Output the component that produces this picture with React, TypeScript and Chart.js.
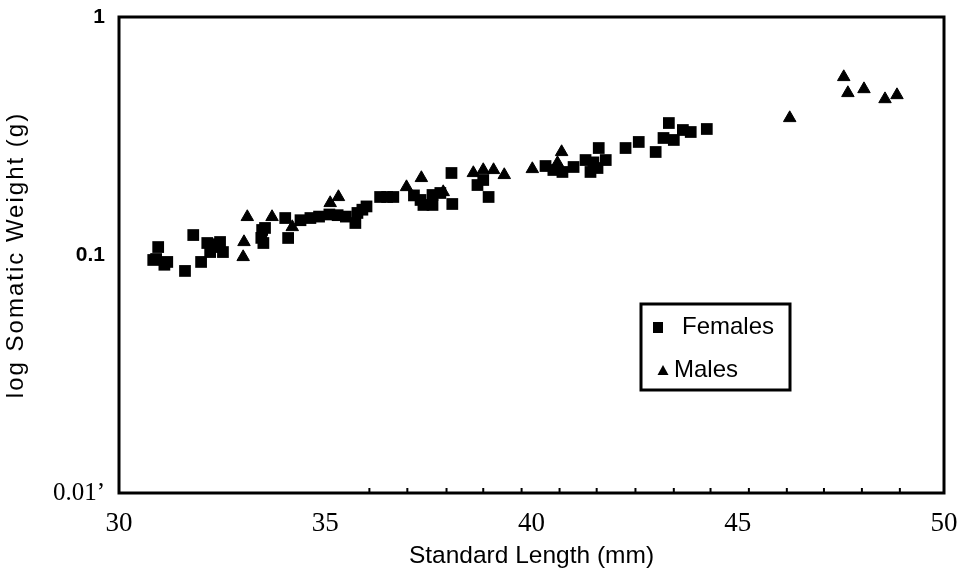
import React, { useEffect, useRef } from "react";
import { Chart, registerables } from "chart.js";

Chart.register(...registerables);

// Females: standard length (mm) and somatic weight (g)
const femalesX = [
  30.83, 30.95, 30.9, 31.1, 31.17, 31.6, 31.8, 31.99, 32.14, 32.3, 32.45, 32.21, 32.52, 32.35,
  33.45, 33.47, 33.5, 33.54, 34.03, 34.1, 34.4, 34.64, 34.85, 35.1, 35.3, 35.5, 35.73, 35.78,
  35.9, 36.0, 36.33, 36.5, 36.65, 37.15, 37.31, 37.38, 37.6, 37.6, 37.79, 38.06, 38.08, 38.69,
  38.83, 38.96, 40.34, 40.53, 40.75, 41.02, 41.31, 41.43, 41.5, 41.6, 41.63, 41.8, 42.28, 42.6,
  43.01, 43.2, 43.33, 43.45, 43.67, 43.86, 44.25,
];
const femalesY = [
  0.0953, 0.108, 0.0962, 0.091, 0.0935, 0.0857, 0.1213, 0.0935, 0.1123, 0.108, 0.1134, 0.1029, 0.1029, 0.111,
  0.118, 0.1274, 0.1123, 0.1299, 0.143, 0.1179, 0.14, 0.143, 0.145, 0.148, 0.147, 0.145, 0.1363, 0.1502,
  0.155, 0.16, 0.1753, 0.1753, 0.1753, 0.178, 0.1703, 0.1623, 0.1787, 0.1623, 0.1822, 0.2211, 0.1638, 0.1968,
  0.2066, 0.1753, 0.2365, 0.2276, 0.2233, 0.2343, 0.2506, 0.2233, 0.245, 0.232, 0.2815, 0.2506, 0.2815, 0.2985,
  0.2709, 0.3102, 0.3585, 0.3043, 0.3351, 0.3287, 0.3384,
];

// Males
const malesX = [
  33.01, 33.03, 33.11, 33.71, 34.2, 35.12, 35.32, 36.97, 37.33, 37.86, 38.59, 38.83, 39.08, 39.34,
  40.02, 40.63, 40.73, 46.26, 47.57, 47.67, 48.06, 48.57, 48.86,
];
const malesY = [
  0.0981, 0.1134, 0.1445, 0.1445, 0.1311, 0.1654, 0.1753, 0.193, 0.2107, 0.1839, 0.2211, 0.2276, 0.2276, 0.2169,
  0.2298, 0.2435, 0.2709, 0.3763, 0.5596, 0.4794, 0.498, 0.452, 0.47,
];

const seriesNames = ["Females", "Males"];
const xTickValues = [30, 35, 40, 45, 50];
const yTickValues = [0.01, 0.1, 1];
const yTickLabels = ["0.01’", "0.1", "1"];
const minorTickValues = [
  36.07, 36.99, 37.94, 38.83, 39.76, 40.68, 41.58, 42.52, 43.45, 44.34, 45.27, 46.19, 47.09, 48.01, 48.93,
];
const yTitle = "log Somatic Weight (g)";
const xTitle = "Standard Length (mm)";

const SANS = "'Liberation Sans', Arial, sans-serif";
const SERIF = "'Liberation Serif', 'Times New Roman', serif";

export default function App() {
  const ref = useRef<HTMLCanvasElement | null>(null);

  useEffect(() => {
    if (!ref.current) return;

    const framePlugin = {
      id: "frameAndLegend",
      afterDraw(chart: any) {
        const { ctx, chartArea } = chart;
        const xs = chart.scales.x;
        ctx.save();
        // minor tick marks on bottom axis
        ctx.strokeStyle = "#000";
        ctx.lineWidth = 2;
        minorTickValues.forEach((v) => {
          const px = xs.getPixelForValue(v);
          ctx.beginPath();
          ctx.moveTo(px, chartArea.bottom);
          ctx.lineTo(px, chartArea.bottom - 5);
          ctx.stroke();
        });
        // frame
        ctx.lineWidth = 3;
        ctx.strokeRect(chartArea.left, chartArea.top, chartArea.right - chartArea.left, chartArea.bottom - chartArea.top);
        // y-axis title (letter-spaced as in the scan)
        ctx.save();
        ctx.fillStyle = "#000";
        ctx.font = `24px ${SANS}`;
        try {
          (ctx as any).letterSpacing = "2px";
        } catch (e) {}
        ctx.translate(16, (chartArea.top + chartArea.bottom) / 2);
        ctx.rotate(-Math.PI / 2);
        ctx.textAlign = "center";
        ctx.textBaseline = "middle";
        ctx.fillText(yTitle, 0, 0);
        ctx.restore();
        // legend box
        const lx = 641, ly = 304, lw = 149, lh = 86;
        ctx.lineWidth = 3;
        ctx.strokeRect(lx, ly, lw, lh);
        ctx.fillStyle = "#000";
        ctx.fillRect(lx + 12, ly + 18, 10, 11);
        const tx = lx + 22, ty = ly + 67;
        ctx.beginPath();
        ctx.moveTo(tx, ty - 6);
        ctx.lineTo(tx + 5.5, ty + 4);
        ctx.lineTo(tx - 5.5, ty + 4);
        ctx.closePath();
        ctx.fill();
        ctx.font = `24px ${SANS}`;
        ctx.textBaseline = "middle";
        ctx.textAlign = "left";
        ctx.fillText(seriesNames[0], lx + 41, ly + 23);
        ctx.fillText(seriesNames[1], lx + 33, ly + 66);
        ctx.restore();
      },
    };

    const chart = new Chart(ref.current, {
      type: "scatter",
      data: {
        datasets: [
          {
            label: seriesNames[0],
            data: femalesX.map((x, i) => ({ x, y: femalesY[i] })),
            pointStyle: "rect",
            pointRadius: 8.3,
            backgroundColor: "#000",
            borderColor: "#000",
            borderWidth: 0,
          },
          {
            label: seriesNames[1],
            data: malesX.map((x, i) => ({ x, y: malesY[i] })),
            pointStyle: "triangle",
            pointRadius: 7.2,
            backgroundColor: "#000",
            borderColor: "#000",
            borderWidth: 1,
          },
        ],
      },
      options: {
        animation: false,
        responsive: true,
        maintainAspectRatio: false,
        layout: { padding: { left: 0, top: 17, right: 23, bottom: 0 } },
        plugins: {
          legend: { display: false },
          tooltip: { enabled: false },
        },
        scales: {
          x: {
            type: "linear",
            min: 30,
            max: 50,
            afterBuildTicks: (s: any) => {
              s.ticks = xTickValues.map((v) => ({ value: v }));
            },
            afterFit: (s: any) => {
              s.height = 84;
              s.paddingLeft = 0;
              s.paddingRight = 0;
            },
            grid: { display: false, drawTicks: false },
            border: { display: false },
            ticks: {
              padding: 15,
              color: "#000",
              font: { family: SERIF, size: 27 },
              maxRotation: 0,
              callback: (v: any) => String(v),
            },
            title: {
              display: true,
              text: xTitle,
              color: "#000",
              font: { family: SANS, size: 24.5 },
              padding: { top: 0, bottom: 6 },
            },
          },
          y: {
            type: "logarithmic",
            min: 0.01,
            max: 1,
            afterBuildTicks: (s: any) => {
              s.ticks = yTickValues.map((v) => ({ value: v }));
            },
            afterFit: (s: any) => {
              s.width = 119;
              s.paddingTop = 0;
              s.paddingBottom = 0;
            },
            grid: { display: false, drawTicks: false },
            border: { display: false },
            ticks: {
              padding: 14,
              color: "#000",
              font: (c: any) =>
                c.tick && c.tick.value === 0.01
                  ? { family: SERIF, size: 25 }
                  : { family: SANS, size: 21, weight: "bold" },
              callback: (v: any) => {
                const i = yTickValues.indexOf(Number(v));
                return i >= 0 ? yTickLabels[i] : "";
              },
            },
            title: { display: false },
          },
        },
      },
      plugins: [framePlugin],
    });

    return () => chart.destroy();
  }, []);

  return (
    <div style={{ position: "fixed", left: 0, top: 0, width: 967, height: 577, background: "#fff" }}>
      <canvas ref={ref} />
    </div>
  );
}
